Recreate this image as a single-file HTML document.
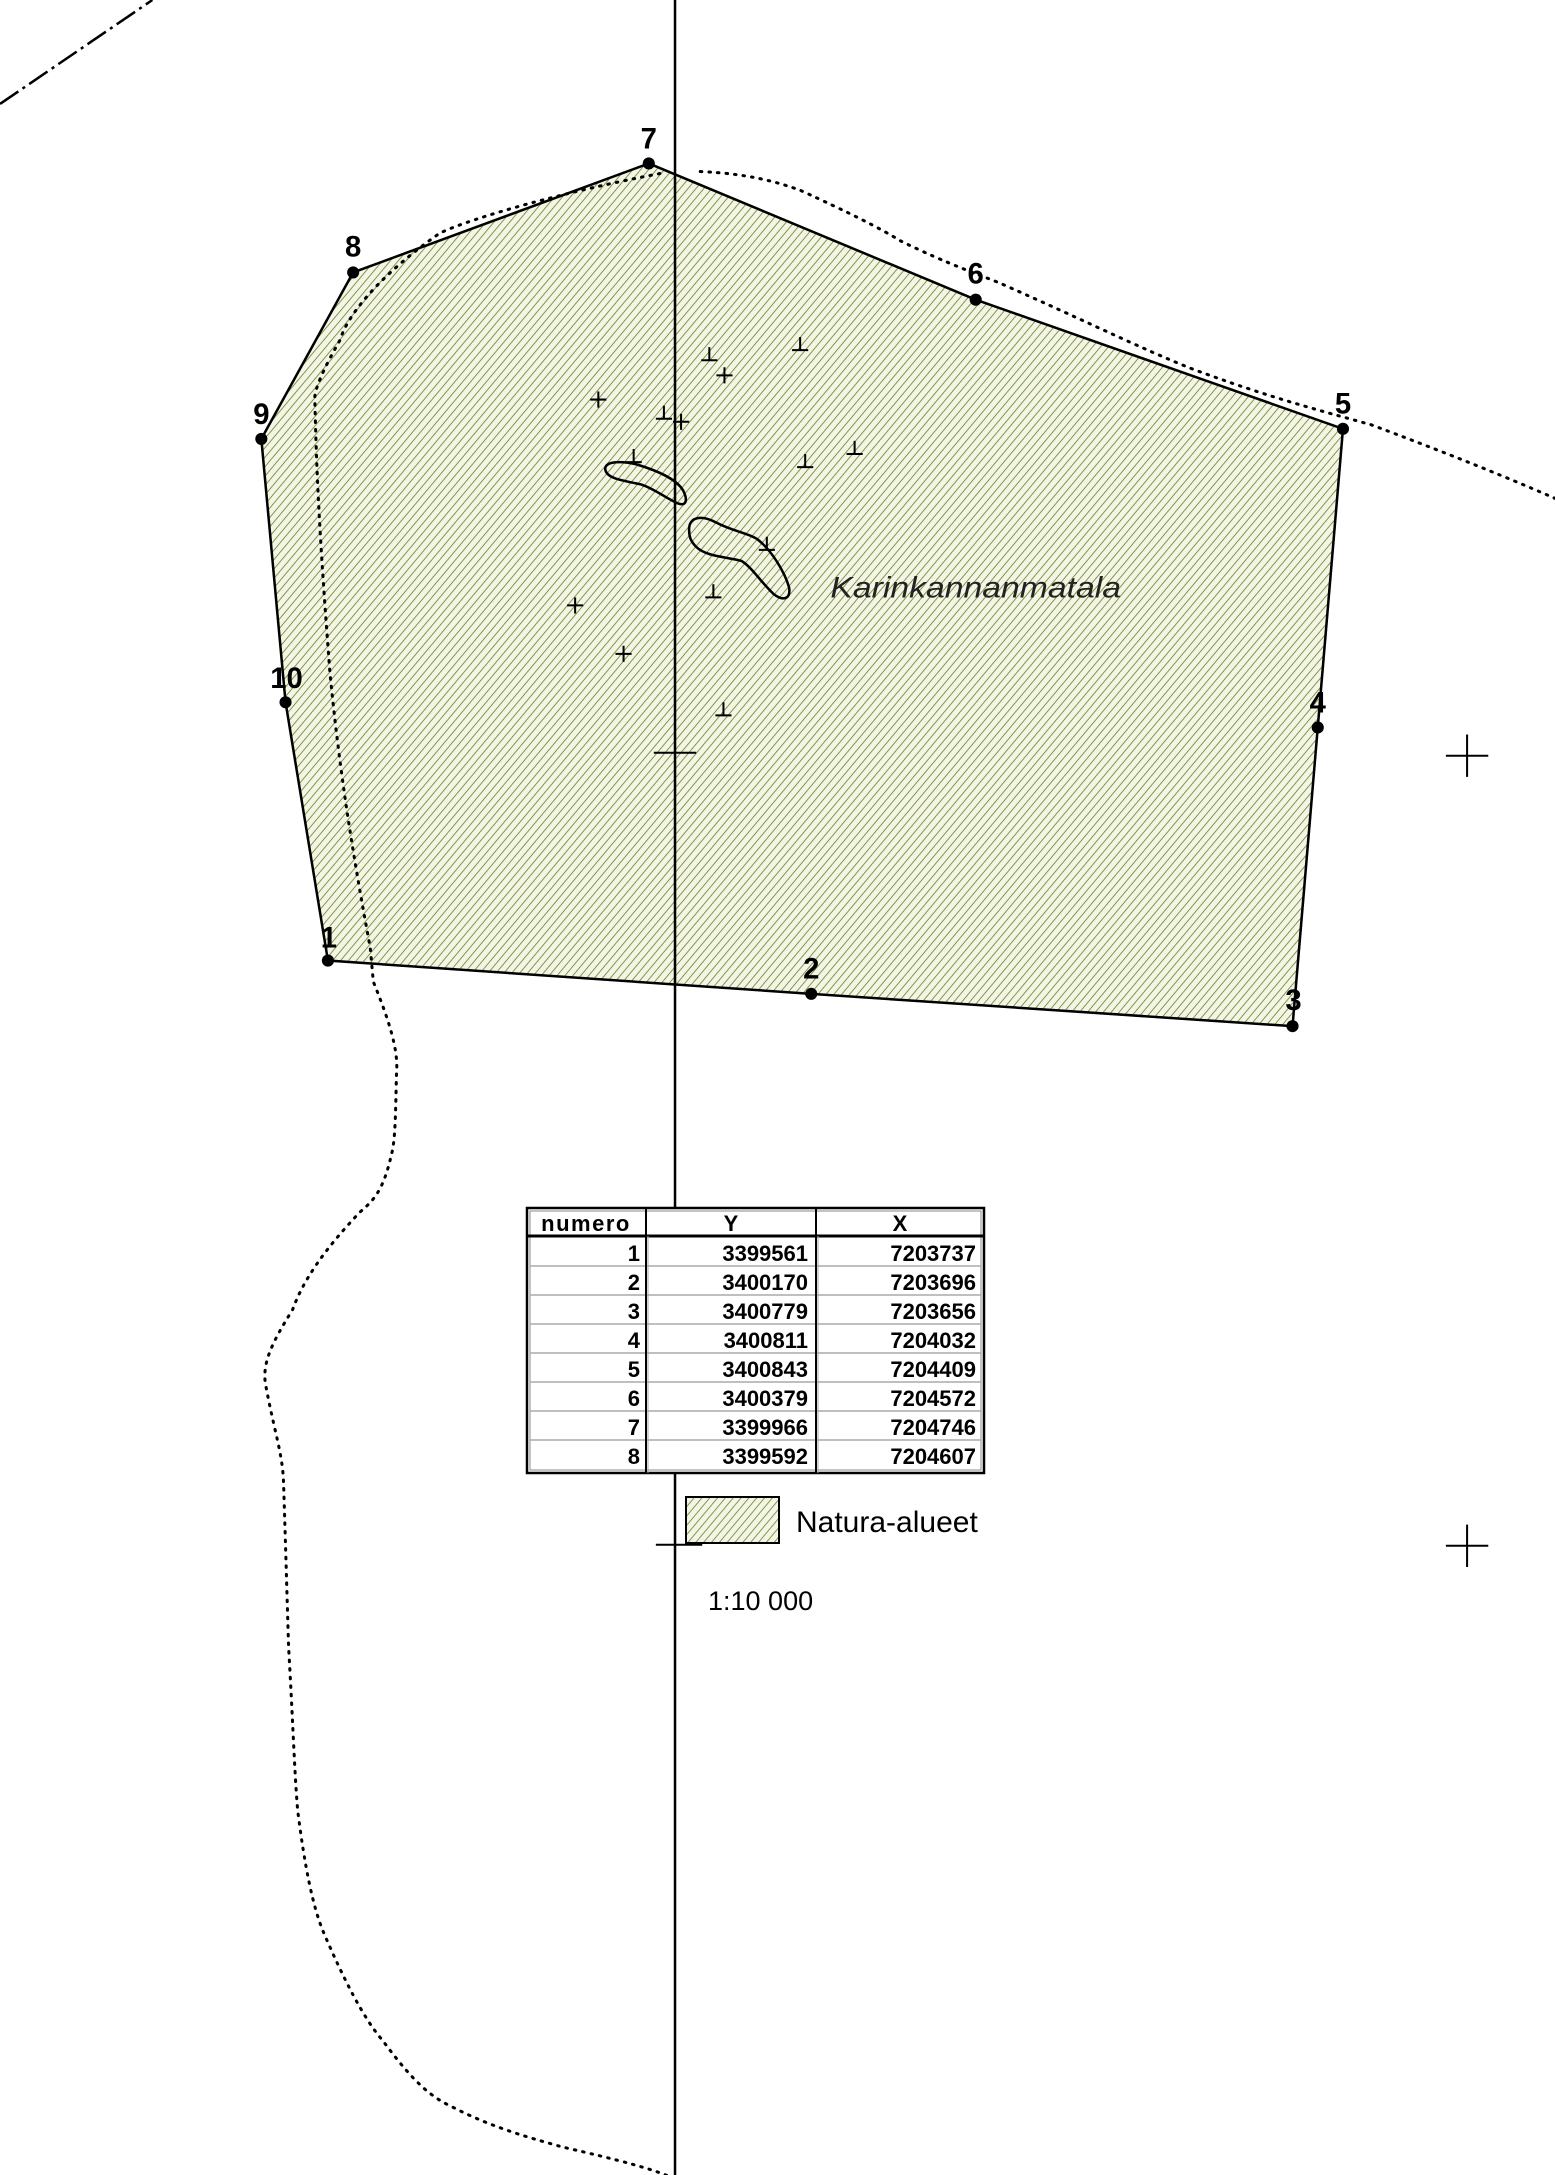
<!DOCTYPE html>
<html><head><meta charset="utf-8"><style>
html,body{margin:0;padding:0;background:#fff}
svg{display:block}
</style></head><body>
<svg width="1555" height="2175" viewBox="0 0 1555 2175" xmlns="http://www.w3.org/2000/svg" font-family="Liberation Sans, sans-serif">
<defs>
<pattern id="h" width="6" height="6" patternUnits="userSpaceOnUse" patternTransform="rotate(40)">
<rect width="6" height="6" fill="#f3f5e6"/>
<line x1="0" y1="0" x2="0" y2="6" stroke="#7f9440" stroke-width="1.9"/>
</pattern>
</defs>
<g transform="scale(1.009)">
<path d="M0,103 L151,0" stroke="#000" stroke-width="2.5" stroke-dasharray="22,5,3,5" fill="none"/>
<polygon points="643,162 967,297 1331,425 1306,721 1281,1017 804,985 325,952 283,696 259,435 350,270" fill="url(#h)" stroke="#000" stroke-width="2.5"/>
<line x1="669" y1="0" x2="669" y2="2175" stroke="#000" stroke-width="2.5"/>
<path d="M654,172 C560,190 470,215 436,231 C380,270 345,310 337,337 C318,370 313,385 312,393 C314,500 322,600 327,667 C340,800 360,900 367,940 L370,973 C385,1010 395,1040 393,1063 C392,1100 392,1130 388,1144 C380,1180 370,1190 357,1201 C320,1240 300,1270 290,1298 C270,1330 260,1350 263,1371 C272,1420 280,1440 281,1469 C283,1530 285,1600 286,1632 C290,1700 292,1760 295,1794 C302,1850 310,1890 321,1916 C340,1960 360,2000 379,2022 C400,2050 420,2075 446,2087 C490,2110 530,2120 558,2128 C610,2140 650,2150 670,2160" fill="none" stroke="#000" stroke-width="3" stroke-dasharray="1.5,7" stroke-linecap="round"/>
<path d="M694,170 C740,172 770,180 794,189 C840,210 870,225 893,239 C940,262 970,272 992,281 C1080,320 1130,345 1180,365 C1260,395 1320,410 1359,421 C1450,455 1510,480 1555,500" fill="none" stroke="#000" stroke-width="3" stroke-dasharray="1.5,7" stroke-linecap="round"/>
<path d="M600,466 C598,458 612,456 630,460 C650,466 670,474 677,486 C682,496 680,502 672,499 C660,494 650,485 635,480 C615,476 602,474 600,466 Z" fill="none" stroke="#000" stroke-width="2.5"/>
<path d="M683,526 C682,512 695,510 710,518 C725,526 740,528 750,534 C765,545 778,568 782,582 C784,594 776,596 767,589 C755,578 745,562 735,556 C722,552 700,552 690,542 C684,536 683,531 683,526 Z" fill="none" stroke="#000" stroke-width="2.5"/>
<text x="823" y="592" font-size="29" font-style="italic" fill="#222" textLength="288" lengthAdjust="spacingAndGlyphs">Karinkannanmatala</text>
<g stroke="#000" stroke-width="2" fill="none">
<path d="M703,344v13m-8,0h16"/><path d="M793,334v13m-8,0h16"/><path d="M658,402v13m-8,0h16"/>
<path d="M628,445v13m-8,0h16"/><path d="M798,450v13m-8,0h16"/><path d="M847,437v13m-8,0h16"/>
<path d="M760,532v13m-8,0h16"/><path d="M707,579v13m-8,0h16"/><path d="M717,696v13m-8,0h16"/>
<path d="M718,364v16m-8,-8h16"/><path d="M593,388v16m-8,-8h16"/><path d="M675,410v16m-8,-8h16"/>
<path d="M570,592v16m-8,-8h16"/><path d="M618,640v16m-8,-8h16"/>
<path d="M648,746h42"/>
<path d="M1454,728v42m-21,-21h42"/><path d="M1454,1511v42m-21,-21h42"/>
<path d="M650,1531h46"/>
</g>
<g fill="#000">
<circle cx="643" cy="162" r="6"/><circle cx="350" cy="270" r="6"/><circle cx="259" cy="435" r="6"/>
<circle cx="283" cy="696" r="6"/><circle cx="325" cy="952" r="6"/><circle cx="804" cy="985" r="6"/>
<circle cx="1281" cy="1017" r="6"/><circle cx="1306" cy="721" r="6"/><circle cx="1331" cy="425" r="6"/>
<circle cx="967" cy="297" r="6"/>
</g>
<g font-size="29" font-weight="bold" fill="#000" text-anchor="middle">
<text x="643" y="147">7</text><text x="350" y="254">8</text><text x="259" y="420">9</text>
<text x="284" y="682">10</text><text x="326" y="939">1</text><text x="804" y="970">2</text>
<text x="1282" y="1001">3</text><text x="1306" y="706">4</text><text x="1331" y="410">5</text>
<text x="967" y="281">6</text>
</g>
</g>
<g>
<rect x="527" y="1208" width="457" height="265" fill="#fff" stroke="#000" stroke-width="2.5"/>
<rect x="530" y="1211" width="451" height="259" fill="none" stroke="#888" stroke-width="1"/>
<line x1="527" y1="1236" x2="984" y2="1236" stroke="#000" stroke-width="3"/>
<g stroke="#aaa" stroke-width="1.5">
<line x1="530" y1="1266" x2="981" y2="1266"/><line x1="530" y1="1295" x2="981" y2="1295"/>
<line x1="530" y1="1324" x2="981" y2="1324"/><line x1="530" y1="1353" x2="981" y2="1353"/>
<line x1="530" y1="1382" x2="981" y2="1382"/><line x1="530" y1="1411" x2="981" y2="1411"/>
<line x1="530" y1="1440" x2="981" y2="1440"/>
</g>
<line x1="646" y1="1208" x2="646" y2="1473" stroke="#000" stroke-width="2"/>
<line x1="816" y1="1208" x2="816" y2="1473" stroke="#000" stroke-width="2"/>
<line x1="648" y1="1236" x2="648" y2="1473" stroke="#aaa" stroke-width="1"/>
<line x1="818" y1="1236" x2="818" y2="1473" stroke="#aaa" stroke-width="1"/>
<g font-size="22" font-weight="bold" fill="#000">
<text x="586" y="1231" text-anchor="middle" letter-spacing="1.5">numero</text>
<text x="731" y="1231" text-anchor="middle">Y</text>
<text x="900" y="1231" text-anchor="middle">X</text>
<g text-anchor="end" font-size="22">
<text x="640" y="1261">1</text><text x="808" y="1261">3399561</text><text x="976" y="1261">7203737</text>
<text x="640" y="1290">2</text><text x="808" y="1290">3400170</text><text x="976" y="1290">7203696</text>
<text x="640" y="1319">3</text><text x="808" y="1319">3400779</text><text x="976" y="1319">7203656</text>
<text x="640" y="1348">4</text><text x="808" y="1348">3400811</text><text x="976" y="1348">7204032</text>
<text x="640" y="1377">5</text><text x="808" y="1377">3400843</text><text x="976" y="1377">7204409</text>
<text x="640" y="1406">6</text><text x="808" y="1406">3400379</text><text x="976" y="1406">7204572</text>
<text x="640" y="1435">7</text><text x="808" y="1435">3399966</text><text x="976" y="1435">7204746</text>
<text x="640" y="1464">8</text><text x="808" y="1464">3399592</text><text x="976" y="1464">7204607</text>
</g></g>
</g>
<rect x="686" y="1497" width="93" height="46" fill="url(#h)" stroke="#000" stroke-width="2"/>
<text x="796" y="1532" font-size="30" fill="#000">Natura-alueet</text>
<text x="708" y="1610" font-size="27" fill="#000">1:10 000</text>
</svg>
</body></html>
